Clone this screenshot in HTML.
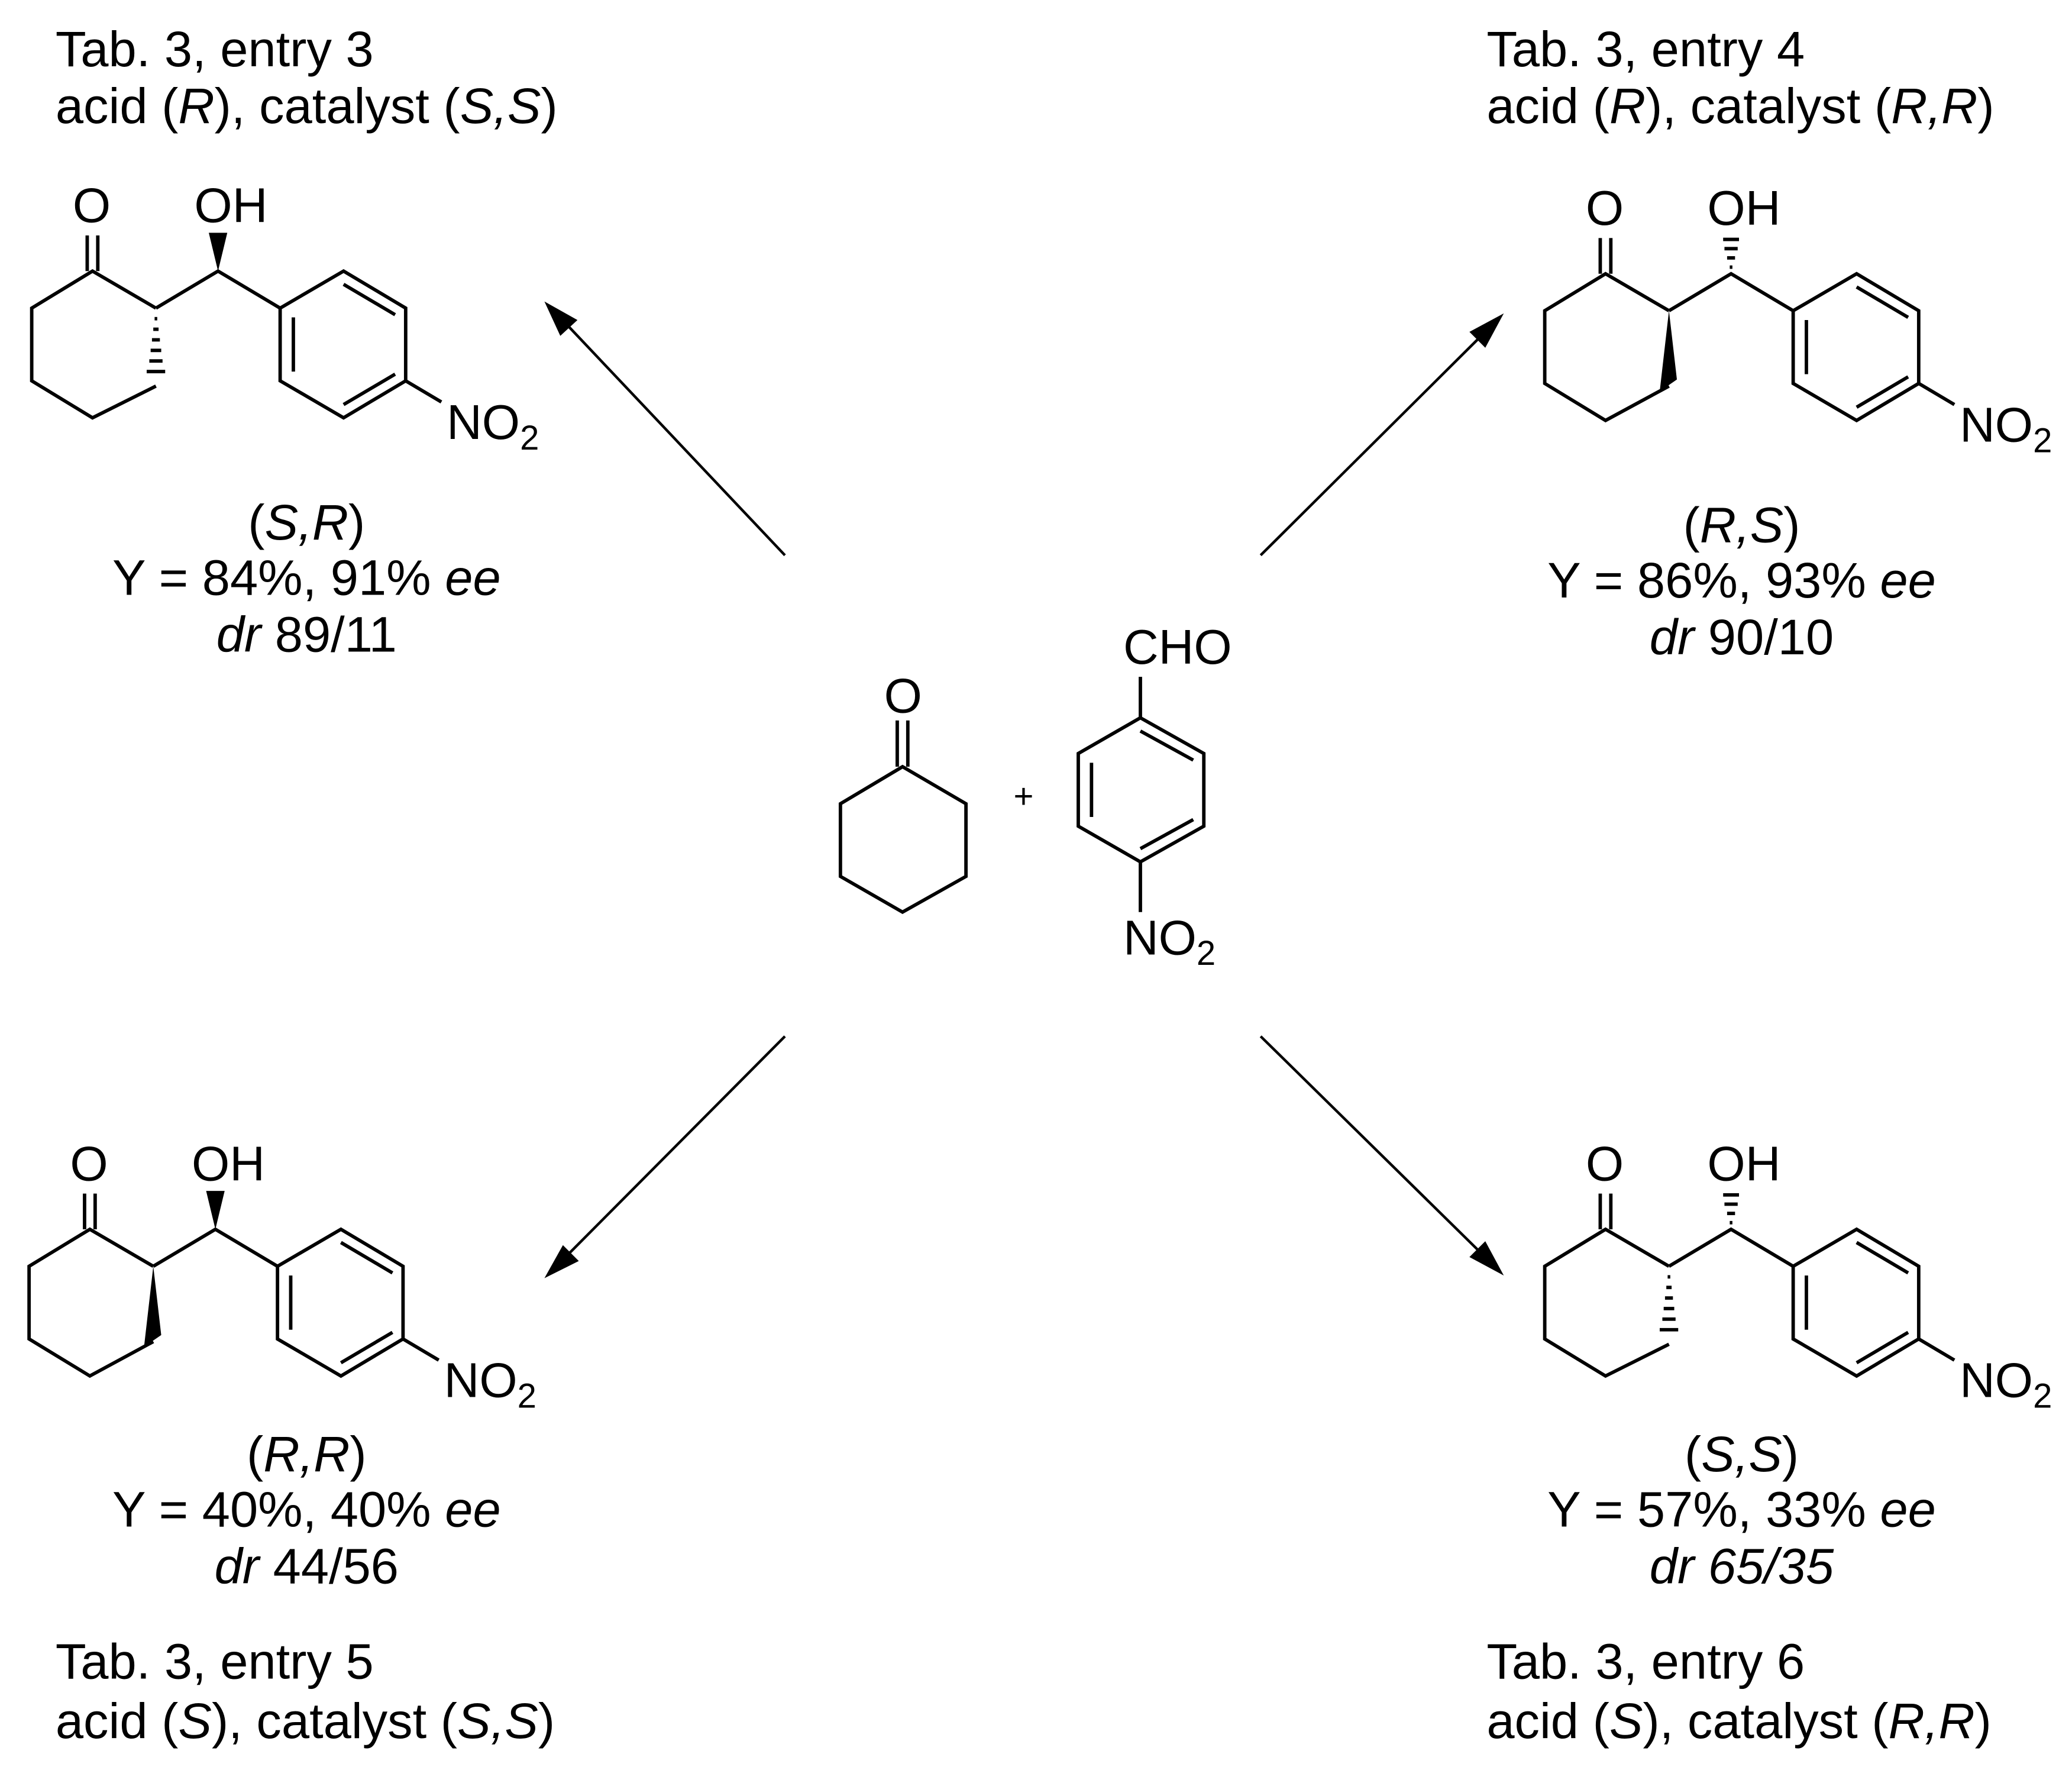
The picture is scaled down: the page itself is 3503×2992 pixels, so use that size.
<!DOCTYPE html>
<html><head><meta charset="utf-8"><style>
html,body{margin:0;padding:0;background:#fff}
svg{display:block}
text{font-family:"Liberation Sans",Arial,sans-serif;fill:#000}
</style></head><body>
<svg width="3503" height="2992" viewBox="0 0 1568 1339" xmlns="http://www.w3.org/2000/svg">
<defs>
<g id="lab">
  <text x="55" y="168" font-size="37">O</text>
  <text x="147" y="168" font-size="37">OH</text>
  <text x="338" y="332" font-size="37">NO<tspan font-size="26" dy="8">2</tspan></text>
</g>
<g id="wedgeOH"><polygon points="165,205 158,176 172,176" fill="#000"/></g>
<g id="hashOH" stroke="#000" stroke-width="2.6">
  <line x1="164" y1="200" x2="166" y2="200"/><line x1="162" y1="193" x2="168" y2="193"/>
  <line x1="160" y1="186" x2="170" y2="186"/><line x1="159" y1="179" x2="171" y2="179"/>
</g>
<g id="hashRing" stroke="#000" stroke-width="2.6">
  <line x1="117" y1="241" x2="119" y2="241"/><line x1="116" y1="249" x2="120" y2="249"/>
  <line x1="115" y1="257" x2="121" y2="257"/><line x1="114" y1="265" x2="122" y2="265"/>
  <line x1="113" y1="273" x2="123" y2="273"/><line x1="111" y1="281" x2="125" y2="281"/>
</g>
</defs>

<!-- TL -->
<g>
  <g stroke="#000" stroke-width="2.6" fill="none">
    <line x1="66" y1="178" x2="66" y2="205"/><line x1="74" y1="178" x2="74" y2="205"/>
    <polyline points="118,233 70,205 24,233 24,288 70,316 118,292"/>
    <polyline points="118,233 165,205 212,233"/>
    <polygon points="212,233 260,205 307,233 307,288 260,316 212,288"/>
    <line x1="260" y1="215" x2="299" y2="238"/><line x1="222" y1="240" x2="222" y2="281"/>
    <line x1="260" y1="306" x2="299" y2="283"/><line x1="307" y1="288" x2="334" y2="304"/>
  </g>
  <use href="#lab"/><use href="#wedgeOH"/><use href="#hashRing"/>
</g>
<!-- TR -->
<g transform="translate(1145,2)">
  <g stroke="#000" stroke-width="2.6" fill="none">
    <line x1="66" y1="178" x2="66" y2="205"/><line x1="74" y1="178" x2="74" y2="205"/>
    <polyline points="118,233 70,205 24,233 24,288 70,316 118,290"/>
    <polyline points="118,233 165,205 212,233"/>
    <polygon points="212,233 260,205 307,233 307,288 260,316 212,288"/>
    <line x1="260" y1="215" x2="299" y2="238"/><line x1="222" y1="240" x2="222" y2="281"/>
    <line x1="260" y1="306" x2="299" y2="283"/><line x1="307" y1="288" x2="334" y2="304"/>
  </g>
  <polygon points="118,233 111,294 124,285" fill="#000"/>
  <use href="#lab"/><use href="#hashOH"/>
</g>
<!-- BL -->
<g transform="translate(-2,725)">
  <g stroke="#000" stroke-width="2.6" fill="none">
    <line x1="66" y1="178" x2="66" y2="205"/><line x1="74" y1="178" x2="74" y2="205"/>
    <polyline points="118,233 70,205 24,233 24,288 70,316 118,290"/>
    <polyline points="118,233 165,205 212,233"/>
    <polygon points="212,233 260,205 307,233 307,288 260,316 212,288"/>
    <line x1="260" y1="215" x2="299" y2="238"/><line x1="222" y1="240" x2="222" y2="281"/>
    <line x1="260" y1="306" x2="299" y2="283"/><line x1="307" y1="288" x2="334" y2="304"/>
  </g>
  <polygon points="118,233 111,294 124,285" fill="#000"/>
  <use href="#lab"/><use href="#wedgeOH"/>
</g>
<!-- BR -->
<g transform="translate(1145,725)">
  <g stroke="#000" stroke-width="2.6" fill="none">
    <line x1="66" y1="178" x2="66" y2="205"/><line x1="74" y1="178" x2="74" y2="205"/>
    <polyline points="118,233 70,205 24,233 24,288 70,316 118,292"/>
    <polyline points="118,233 165,205 212,233"/>
    <polygon points="212,233 260,205 307,233 307,288 260,316 212,288"/>
    <line x1="260" y1="215" x2="299" y2="238"/><line x1="222" y1="240" x2="222" y2="281"/>
    <line x1="260" y1="306" x2="299" y2="283"/><line x1="307" y1="288" x2="334" y2="304"/>
  </g>
  <use href="#lab"/><use href="#hashOH"/><use href="#hashRing"/>
</g>

<!-- center -->
<g stroke="#000" stroke-width="2.6" fill="none">
  <line x1="679" y1="545" x2="679" y2="580"/><line x1="687" y1="545" x2="687" y2="580"/>
  <polygon points="683,580 731,608 731,663 683,690 636,663 636,608"/>
  <line x1="863" y1="512" x2="863" y2="543"/>
  <polygon points="863,543 911,570 911,625 863,652 816,625 816,570"/>
  <line x1="863" y1="553" x2="903" y2="575"/><line x1="826" y1="577" x2="826" y2="618"/>
  <line x1="863" y1="642" x2="903" y2="620"/>
  <line x1="863" y1="652" x2="863" y2="690"/>
</g>
<text x="669" y="539" font-size="37">O</text>
<text x="767" y="611" font-size="26">+</text>
<text x="850" y="502" font-size="37">CHO</text>
<text x="850" y="722" font-size="37">NO<tspan font-size="26" dy="8">2</tspan></text>

<!-- arrows -->
<g stroke="#000" stroke-width="2">
  <line x1="594" y1="420" x2="420" y2="236"/>
  <line x1="954" y1="420" x2="1130" y2="245"/>
  <line x1="594" y1="784" x2="420" y2="959"/>
  <line x1="954" y1="784" x2="1130" y2="957"/>
</g>
<g fill="#000">
  <polygon points="412,228 437,242 424,254"/>
  <polygon points="1138,237 1112,251 1124,263"/>
  <polygon points="412,967 426,942 438,954"/>
  <polygon points="1138,965 1112,951 1124,939"/>
</g>

<!-- labels -->
<g font-size="38">
  <text x="42" y="50">Tab. 3, entry 3</text>
  <text x="42" y="93">acid (<tspan font-style="italic">R</tspan>), catalyst (<tspan font-style="italic">S,S</tspan>)</text>
  <text x="232" y="408" text-anchor="middle">(<tspan font-style="italic">S,R</tspan>)</text>
  <text x="232" y="450" text-anchor="middle">Y = 84%, 91% <tspan font-style="italic">ee</tspan></text>
  <text x="232" y="493" text-anchor="middle"><tspan font-style="italic">dr</tspan> 89/11</text>

  <text x="1125" y="50">Tab. 3, entry 4</text>
  <text x="1125" y="93">acid (<tspan font-style="italic">R</tspan>), catalyst (<tspan font-style="italic">R,R</tspan>)</text>
  <text x="1318" y="410" text-anchor="middle">(<tspan font-style="italic">R,S</tspan>)</text>
  <text x="1318" y="452" text-anchor="middle">Y = 86%, 93% <tspan font-style="italic">ee</tspan></text>
  <text x="1318" y="495" text-anchor="middle"><tspan font-style="italic">dr</tspan> 90/10</text>

  <text x="232" y="1113" text-anchor="middle">(<tspan font-style="italic">R,R</tspan>)</text>
  <text x="232" y="1155" text-anchor="middle">Y = 40%, 40% <tspan font-style="italic">ee</tspan></text>
  <text x="232" y="1198" text-anchor="middle"><tspan font-style="italic">dr</tspan> 44/56</text>
  <text x="42" y="1270">Tab. 3, entry 5</text>
  <text x="42" y="1315">acid (<tspan font-style="italic">S</tspan>), catalyst (<tspan font-style="italic">S,S</tspan>)</text>

  <text x="1318" y="1113" text-anchor="middle">(<tspan font-style="italic">S,S</tspan>)</text>
  <text x="1318" y="1155" text-anchor="middle">Y = 57%, 33% <tspan font-style="italic">ee</tspan></text>
  <text x="1318" y="1198" text-anchor="middle" font-style="italic">dr 65/35</text>
  <text x="1125" y="1270">Tab. 3, entry 6</text>
  <text x="1125" y="1315">acid (<tspan font-style="italic">S</tspan>), catalyst (<tspan font-style="italic">R,R</tspan>)</text>
</g>
</svg>
</body></html>
